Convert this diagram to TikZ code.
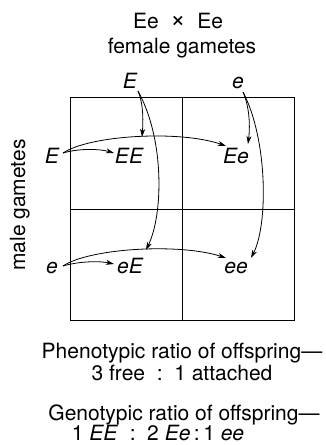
\documentclass[tikz,border=0pt]{standalone}
\usepackage{fontspec}
\setmainfont{TeX Gyre Heros}
\usetikzlibrary{arrows.meta}
\begin{document}
\begin{tikzpicture}[x=1pt,y=-1pt,
  txt/.style={inner sep=0pt,anchor=base,font=\fontsize{21}{24}\selectfont},
  gene/.style={txt,font=\fontsize{21}{24}\selectfont\itshape},
  grid/.style={line width=0.9pt},
  arr/.style={line width=0.8pt,-{Stealth[length=8pt,width=5pt,inset=2.2pt]}}]
\useasboundingbox (0,0) rectangle (325,445);
% titles
\node[txt] (cross) at (178,28) {Ee\ \ \raisebox{0.5pt}{\fontsize{26}{26}\selectfont ×}\ \ Ee};
\node[txt] (fem) at (182,53) {female gametes};
\node[txt,rotate=90,anchor=base] (male) at (25,205) {male gametes};
% grid
\draw[grid] (70,97) rectangle (294,320);
\draw[grid] (182,97) -- (182,320);
\draw[grid] (70,209) -- (294,209);
% gamete labels
\node[gene] (tE) at (130,88) {E};
\node[gene] (te) at (238,88) {e};
\node[gene] (lE) at (52,163) {E};
\node[gene] (le) at (52,273) {e};
% offspring
\node[gene] (EE) at (129,163) {EE};
\node[gene] (Ee) at (236,163) {Ee};
\node[gene] (eE) at (130,273) {eE};
\node[gene] (ee) at (236,273) {ee};
% connector endpoints
\coordinate (tEs) at (138,91);
\coordinate (tes) at (243,92);
\coordinate (lEs) at (63,153);
\coordinate (les) at (63,266);
\coordinate (EEt) at (142,137);
\coordinate (eEt) at (146,250);
\coordinate (Eet) at (248,144);
\coordinate (eet) at (251,258);
\coordinate (EEl) at (114,153);
\coordinate (Eel) at (226,146);
\coordinate (eEl) at (114,264);
\coordinate (eel) at (226,258);
% arrows from top
\draw[arr] (tEs) .. controls (144,105) and (143,124) .. (EEt);
\draw[arr] (tEs) .. controls (165,140) and (163,215) .. (eEt);
\draw[arr] (tes) .. controls (250,108) and (250,128) .. (Eet);
\draw[arr] (tes) .. controls (268,140) and (268,225) .. (eet);
% arrows from left
\draw[arr] (lEs) .. controls (80,148) and (100,149) .. (EEl);
\draw[arr] (lEs) .. controls (90,135) and (180,130) .. (Eel);
\draw[arr] (les) .. controls (80,261) and (100,261) .. (eEl);
\draw[arr] (les) .. controls (90,248) and (180,243) .. (eel);
% ratios
\node[txt] (pheno) at (182,358) {Phenotypic ratio of offspring—};
\node[txt] (pr) at (182,380) {3 free\ \ :\ \ 1 attached};
\node[txt] (geno) at (184,420) {Genotypic ratio of offspring—};
\node[txt] (gr) at (158,440) {1 \textit{EE}\ \ :\ \ 2 \textit{Ee}\,:\,1 \textit{ee}};
\end{tikzpicture}
\end{document}
